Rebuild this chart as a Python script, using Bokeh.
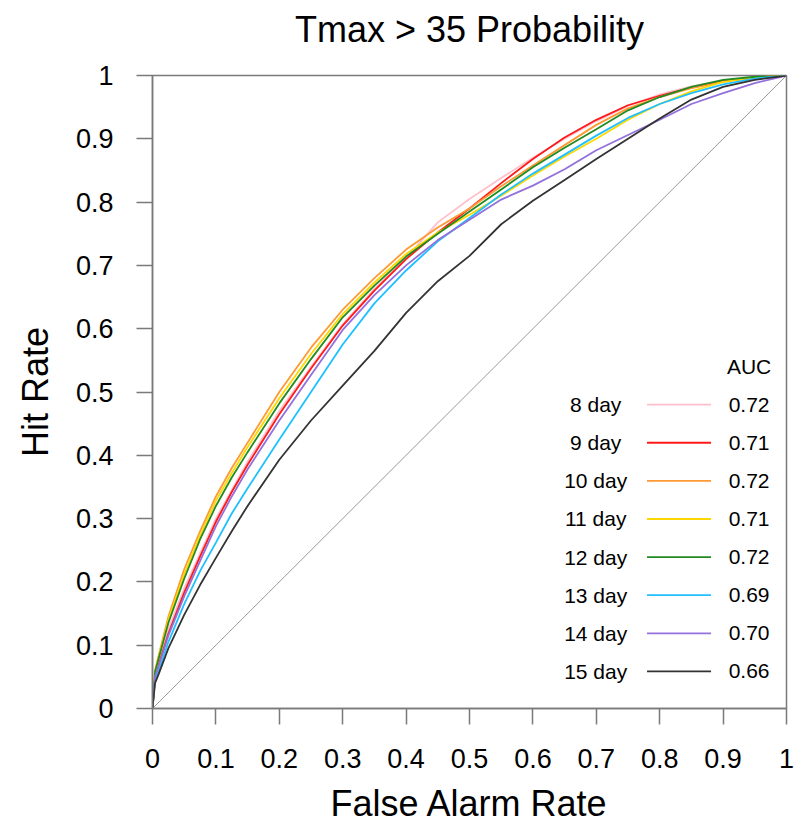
from bokeh.plotting import figure
from bokeh.models import Range1d, FixedTicker, PrintfTickFormatter, Title
from bokeh.core.properties import value
from bokeh.embed import file_html
from bokeh.resources import INLINE

# ---------------- data ----------------
far = [0, 0.004, 0.01, 0.025, 0.05, 0.075, 0.1, 0.125, 0.15, 0.2, 0.25, 0.3, 0.35,
       0.4, 0.45, 0.5, 0.55, 0.6, 0.65, 0.7, 0.75, 0.8, 0.85, 0.9, 0.95, 1.0]

hr_8day = [0, 0.055, 0.075, 0.125, 0.19, 0.245, 0.30, 0.345, 0.39, 0.47, 0.54, 0.607, 0.663,
           0.712, 0.768, 0.805, 0.838, 0.87, 0.9, 0.928, 0.952, 0.97, 0.983, 0.992, 0.997, 1]
hr_9day = [0, 0.05, 0.07, 0.118, 0.183, 0.24, 0.295, 0.342, 0.385, 0.465, 0.537, 0.605, 0.66,
           0.71, 0.752, 0.79, 0.83, 0.868, 0.902, 0.93, 0.953, 0.968, 0.981, 0.991, 0.997, 1]
hr_10day = [0, 0.06, 0.085, 0.145, 0.22, 0.28, 0.335, 0.38, 0.42, 0.50, 0.57, 0.63, 0.68,
            0.725, 0.76, 0.79, 0.825, 0.858, 0.89, 0.922, 0.948, 0.966, 0.98, 0.99, 0.997, 1]
hr_11day = [0, 0.058, 0.082, 0.14, 0.212, 0.273, 0.328, 0.372, 0.413, 0.49, 0.56, 0.623, 0.673,
            0.718, 0.752, 0.78, 0.81, 0.842, 0.872, 0.9, 0.93, 0.955, 0.975, 0.99, 0.997, 1]
hr_12day = [0, 0.058, 0.08, 0.135, 0.205, 0.267, 0.32, 0.365, 0.405, 0.482, 0.552, 0.618, 0.668,
            0.714, 0.75, 0.785, 0.82, 0.855, 0.886, 0.915, 0.945, 0.966, 0.982, 0.993, 0.998, 1]
hr_13day = [0, 0.045, 0.06, 0.105, 0.165, 0.217, 0.262, 0.308, 0.348, 0.425, 0.50, 0.575, 0.64,
            0.692, 0.738, 0.775, 0.812, 0.845, 0.875, 0.905, 0.933, 0.955, 0.972, 0.986, 0.995, 1]
hr_14day = [0, 0.05, 0.068, 0.115, 0.177, 0.233, 0.288, 0.335, 0.378, 0.455, 0.527, 0.598, 0.653,
            0.70, 0.74, 0.772, 0.804, 0.826, 0.852, 0.882, 0.906, 0.93, 0.955, 0.972, 0.988, 1]
hr_15day = [0, 0.04, 0.055, 0.095, 0.148, 0.195, 0.238, 0.28, 0.32, 0.393, 0.455, 0.51, 0.565,
            0.625, 0.675, 0.715, 0.765, 0.802, 0.835, 0.868, 0.9, 0.932, 0.962, 0.982, 0.993, 1]

series_labels = ["8 day", "9 day", "10 day", "11 day", "12 day", "13 day", "14 day", "15 day"]
auc_labels = ["0.72", "0.71", "0.72", "0.71", "0.72", "0.69", "0.70", "0.66"]
series_colors = ["#FFC0CB", "#FF1A1A", "#FF9933", "#FFD700", "#228B22", "#1EC0FF", "#9370DB", "#333333"]
tick_values = [0, 0.1, 0.2, 0.3, 0.4, 0.5, 0.6, 0.7, 0.8, 0.9, 1.0]
title_text = "Tmax > 35 Probability"

all_hr = [hr_8day, hr_9day, hr_10day, hr_11day, hr_12day, hr_13day, hr_14day, hr_15day]

FONT = "Liberation Sans"
AXIS_COLOR = "#7a7a7a"

p = figure(frame_width=634, frame_height=633,
           min_border_left=152, min_border_right=19, min_border_top=75, min_border_bottom=119,
           x_range=Range1d(0, 1), y_range=Range1d(0, 1),
           output_backend="svg", toolbar_location=None)

# built-in title left empty; a spacer title next to the frame and the real title outside it
p.title.text = ""
p.title.standoff = 0
p.title.text_font_size = "1px"
p.add_layout(Title(text=" ", text_font_size="10px", standoff=10), "above")
p.add_layout(Title(text=title_text, align="center", text_font=FONT, text_font_size="36px",
                   text_font_style="normal", text_color="black", standoff=6), "above")

p.xgrid.visible = False
p.ygrid.visible = False
p.outline_line_color = AXIS_COLOR
p.outline_line_width = 1.5
p.background_fill_color = "white"
p.border_fill_color = "white"

for ax, lab in ((p.xaxis[0], "False Alarm Rate"), (p.yaxis[0], "Hit Rate")):
    ax.ticker = FixedTicker(ticks=tick_values)
    ax.formatter = PrintfTickFormatter(format="%g")
    ax.axis_label = lab
    ax.axis_label_text_font = FONT
    ax.axis_label_text_font_size = "36px"
    ax.axis_label_text_font_style = "normal"
    ax.axis_label_text_color = "black"
    ax.major_label_text_font = FONT
    ax.major_label_text_font_size = "27px"
    ax.major_label_text_color = "black"
    ax.major_tick_out = 16
    ax.major_tick_in = 0
    ax.minor_tick_out = 0
    ax.minor_tick_in = 0
    ax.major_tick_line_color = AXIS_COLOR
    ax.major_tick_line_width = 1.5
    ax.axis_line_color = AXIS_COLOR
    ax.axis_line_width = 1.5

p.xaxis.major_label_standoff = 24
p.xaxis.axis_label_standoff = 12
p.yaxis.major_label_standoff = 23
p.yaxis.axis_label_standoff = 17

# diagonal reference
p.line([0, 1], [0, 1], line_color="#9a9a9a", line_width=1)

for hr, col in zip(all_hr, series_colors):
    p.line(far, hr, line_color=col, line_width=1.8)

# legend (layout positions)
row_y0, row_step = 0.48, 0.0602
rows_y = [row_y0 - i * row_step for i in range(len(series_labels))]
p.text(x=[0.699] * len(series_labels), y=rows_y, text=series_labels,
       text_font=value(FONT), text_font_size="21px", text_align="center",
       text_baseline="middle", text_color="black")
p.segment(x0=[0.780] * len(series_labels), y0=rows_y, x1=[0.881] * len(series_labels), y1=rows_y,
          line_color=series_colors, line_width=1.8)
p.text(x=[0.941] * len(auc_labels), y=rows_y, text=auc_labels,
       text_font=value(FONT), text_font_size="21px", text_align="center",
       text_baseline="middle", text_color="black")
p.text(x=[0.941], y=[row_y0 + row_step], text=["AUC"],
       text_font=value(FONT), text_font_size="21px", text_align="center",
       text_baseline="middle", text_color="black")

open("out.html", "w").write(file_html(p, INLINE))
